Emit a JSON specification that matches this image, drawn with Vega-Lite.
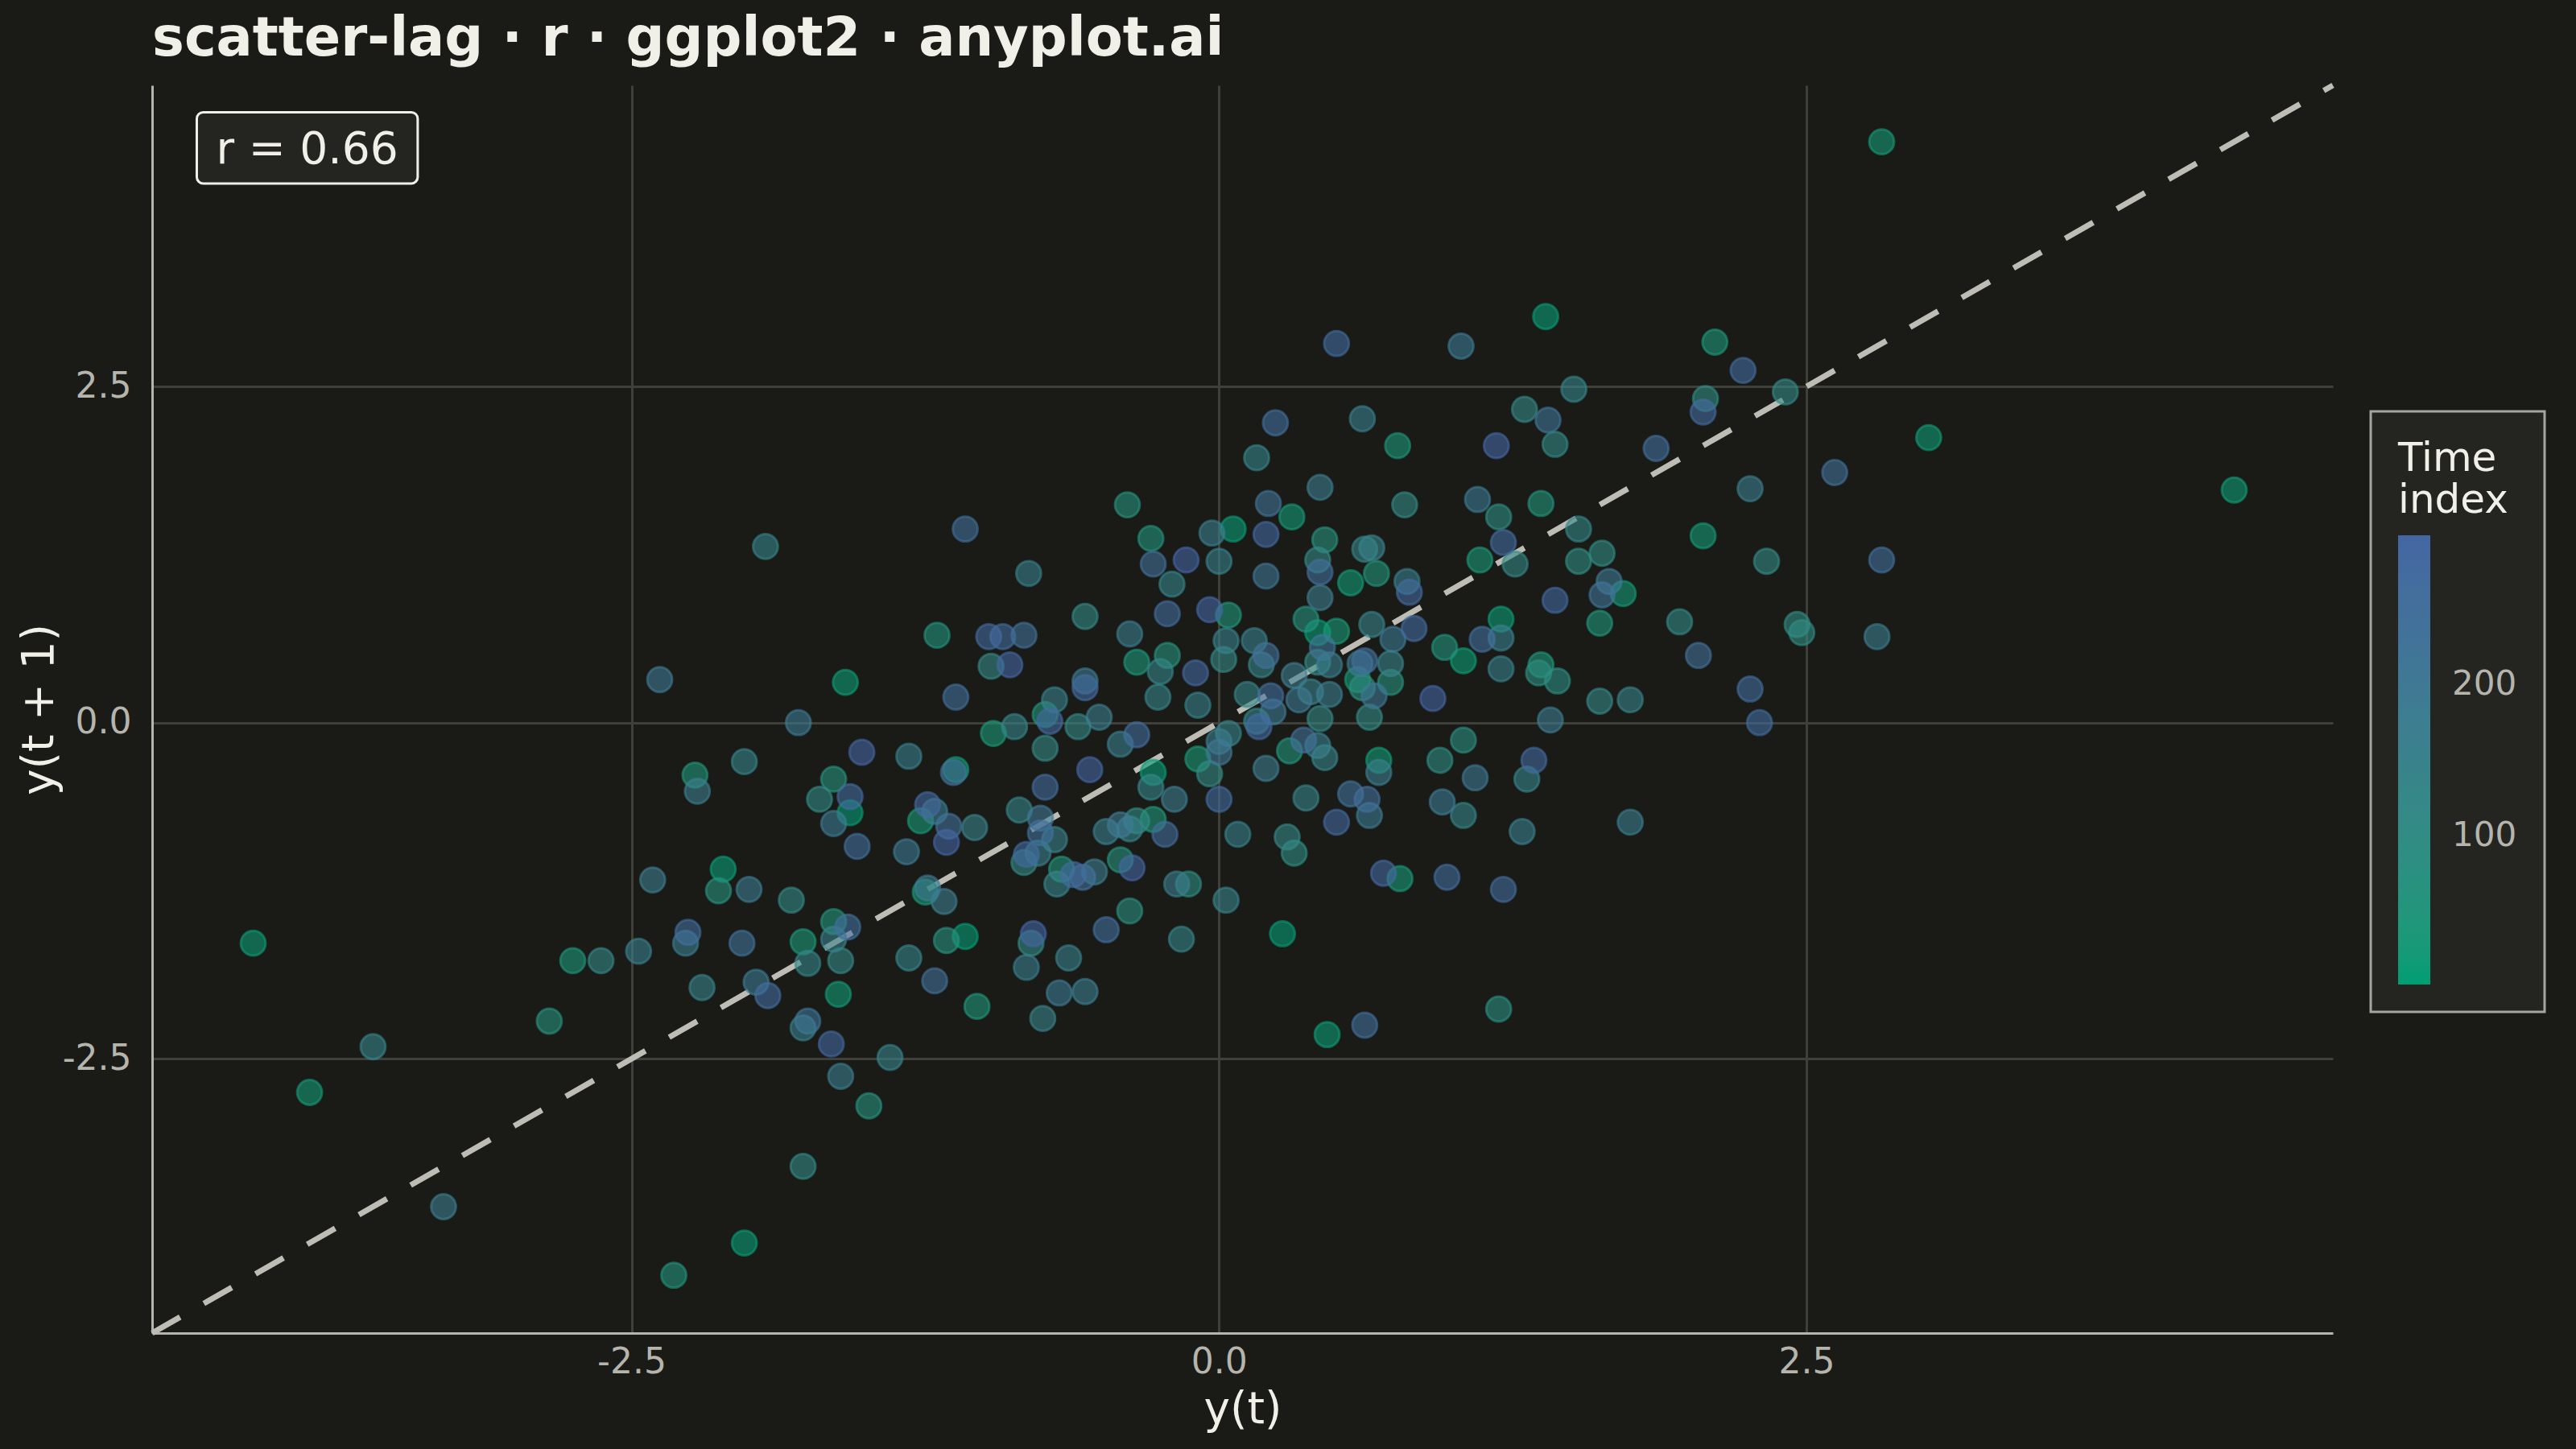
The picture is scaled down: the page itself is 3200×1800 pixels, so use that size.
{
  "$schema": "https://vega.github.io/schema/vega-lite/v6.json",
  "width": 2709,
  "height": 1550,
  "autosize": {"type": "none"},
  "padding": {"left": 189, "top": 106, "right": 302, "bottom": 144},
  "background": "#1A1A17",
  "title": {
    "text": "scatter-lag · r · ggplot2 · anyplot.ai",
    "anchor": "start",
    "frame": "group",
    "font": "DejaVu Sans",
    "fontSize": 67,
    "fontWeight": "bold",
    "color": "#F0EFE8",
    "offset": 20
  },
  "config": {
    "view": {"stroke": null},
    "legend": {"strokeWidth": 3},
    "axis": {
      "grid": true,
      "gridColor": "#40403B",
      "gridWidth": 3,
      "domain": true,
      "domainColor": "#B5B5AD",
      "domainWidth": 3,
      "ticks": false,
      "labelFont": "DejaVu Sans",
      "labelFontSize": 44,
      "labelColor": "#B5B5AD",
      "labelFlush": false,
      "labelOverlap": false,
      "titleFont": "DejaVu Sans",
      "titleFontSize": 55,
      "titleFontWeight": "normal",
      "titleColor": "#F0EFE8"
    }
  },
  "datasets": {
    "lag": [
      {"y_t": -4.11, "y_t1": -1.64, "t": 12},
      {"y_t": -2.75, "y_t1": -1.77, "t": 35},
      {"y_t": -2.63, "y_t1": -1.77, "t": 120},
      {"y_t": -2.47, "y_t1": -1.70, "t": 155},
      {"y_t": -2.85, "y_t1": -2.22, "t": 58},
      {"y_t": -3.60, "y_t1": -2.41, "t": 135},
      {"y_t": -3.87, "y_t1": -2.75, "t": 24},
      {"y_t": -3.30, "y_t1": -3.60, "t": 175},
      {"y_t": -2.32, "y_t1": -4.11, "t": 47},
      {"y_t": -2.02, "y_t1": -3.87, "t": 8},
      {"y_t": -1.77, "y_t1": -3.30, "t": 110},
      {"y_t": -1.49, "y_t1": -2.85, "t": 66},
      {"y_t": -1.61, "y_t1": -2.63, "t": 165},
      {"y_t": -1.40, "y_t1": -2.49, "t": 145},
      {"y_t": -1.12, "y_t1": 0.19, "t": 245},
      {"y_t": -1.79, "y_t1": 0.00, "t": 185},
      {"y_t": -0.96, "y_t1": -0.08, "t": 30},
      {"y_t": -0.87, "y_t1": -0.03, "t": 128},
      {"y_t": -0.74, "y_t1": 0.06, "t": 52},
      {"y_t": -0.72, "y_t1": 0.01, "t": 275},
      {"y_t": -0.70, "y_t1": 0.17, "t": 150},
      {"y_t": -0.74, "y_t1": -0.19, "t": 120},
      {"y_t": -0.74, "y_t1": -0.48, "t": 260},
      {"y_t": -1.52, "y_t1": -0.22, "t": 290},
      {"y_t": -1.32, "y_t1": -0.25, "t": 155},
      {"y_t": -1.12, "y_t1": -0.35, "t": 18},
      {"y_t": -1.13, "y_t1": -0.37, "t": 238},
      {"y_t": -2.02, "y_t1": -0.29, "t": 135},
      {"y_t": -2.23, "y_t1": -0.39, "t": 40},
      {"y_t": -2.22, "y_t1": -0.51, "t": 175},
      {"y_t": -1.64, "y_t1": -0.42, "t": 62},
      {"y_t": -1.70, "y_t1": -0.57, "t": 110},
      {"y_t": -1.57, "y_t1": -0.55, "t": 268},
      {"y_t": -1.57, "y_t1": -0.67, "t": 5},
      {"y_t": -1.64, "y_t1": -0.75, "t": 190},
      {"y_t": -1.54, "y_t1": -0.92, "t": 252},
      {"y_t": -1.24, "y_t1": -0.61, "t": 282},
      {"y_t": -1.27, "y_t1": -0.73, "t": 28},
      {"y_t": -1.21, "y_t1": -0.66, "t": 165},
      {"y_t": -1.15, "y_t1": -0.77, "t": 235},
      {"y_t": -1.16, "y_t1": -0.89, "t": 298},
      {"y_t": -1.04, "y_t1": -0.78, "t": 145},
      {"y_t": -1.33, "y_t1": -0.96, "t": 185},
      {"y_t": -0.85, "y_t1": -0.65, "t": 128},
      {"y_t": -0.76, "y_t1": -0.71, "t": 205},
      {"y_t": -0.76, "y_t1": -0.82, "t": 245},
      {"y_t": -0.70, "y_t1": -0.87, "t": 150},
      {"y_t": -0.82, "y_t1": -0.98, "t": 275},
      {"y_t": -0.83, "y_t1": -1.04, "t": 120},
      {"y_t": -0.77, "y_t1": -0.97, "t": 155},
      {"y_t": -0.67, "y_t1": -1.09, "t": 47},
      {"y_t": -0.69, "y_t1": -1.20, "t": 135},
      {"y_t": -2.41, "y_t1": -1.17, "t": 175},
      {"y_t": -2.11, "y_t1": -1.09, "t": 8},
      {"y_t": -2.13, "y_t1": -1.25, "t": 66},
      {"y_t": -2.00, "y_t1": -1.24, "t": 180},
      {"y_t": -1.82, "y_t1": -1.32, "t": 110},
      {"y_t": -2.26, "y_t1": -1.56, "t": 260},
      {"y_t": -2.27, "y_t1": -1.64, "t": 165},
      {"y_t": -2.03, "y_t1": -1.64, "t": 230},
      {"y_t": -2.20, "y_t1": -1.97, "t": 145},
      {"y_t": -1.97, "y_t1": -1.93, "t": 185},
      {"y_t": -1.92, "y_t1": -2.03, "t": 268},
      {"y_t": -1.77, "y_t1": -1.63, "t": 30},
      {"y_t": -1.75, "y_t1": -1.79, "t": 128},
      {"y_t": -1.64, "y_t1": -1.48, "t": 52},
      {"y_t": -1.58, "y_t1": -1.52, "t": 252},
      {"y_t": -1.64, "y_t1": -1.61, "t": 150},
      {"y_t": -1.61, "y_t1": -1.77, "t": 120},
      {"y_t": -1.62, "y_t1": -2.02, "t": 18},
      {"y_t": -1.75, "y_t1": -2.22, "t": 215},
      {"y_t": -1.77, "y_t1": -2.27, "t": 155},
      {"y_t": -1.65, "y_t1": -2.39, "t": 282},
      {"y_t": -1.32, "y_t1": -1.75, "t": 135},
      {"y_t": -1.21, "y_t1": -1.92, "t": 235},
      {"y_t": -1.03, "y_t1": -2.11, "t": 40},
      {"y_t": -1.16, "y_t1": -1.62, "t": 62},
      {"y_t": -1.08, "y_t1": -1.59, "t": 5},
      {"y_t": -1.25, "y_t1": -1.26, "t": 28},
      {"y_t": -1.24, "y_t1": -1.23, "t": 190},
      {"y_t": -1.17, "y_t1": -1.33, "t": 175},
      {"y_t": -0.79, "y_t1": -1.57, "t": 298},
      {"y_t": -0.80, "y_t1": -1.64, "t": 110},
      {"y_t": -0.82, "y_t1": -1.82, "t": 165},
      {"y_t": -0.75, "y_t1": -2.20, "t": 145},
      {"y_t": -0.68, "y_t1": -2.01, "t": 185},
      {"y_t": -1.93, "y_t1": 1.31, "t": 128},
      {"y_t": -1.08, "y_t1": 1.44, "t": 245},
      {"y_t": -0.81, "y_t1": 1.11, "t": 150},
      {"y_t": -1.20, "y_t1": 0.65, "t": 47},
      {"y_t": -0.98, "y_t1": 0.64, "t": 275},
      {"y_t": -0.92, "y_t1": 0.64, "t": 260},
      {"y_t": -0.83, "y_t1": 0.65, "t": 238},
      {"y_t": -0.97, "y_t1": 0.42, "t": 120},
      {"y_t": -0.89, "y_t1": 0.43, "t": 290},
      {"y_t": -2.38, "y_t1": 0.32, "t": 198},
      {"y_t": -1.59, "y_t1": 0.30, "t": 12},
      {"y_t": 0.50, "y_t1": 2.82, "t": 268},
      {"y_t": 1.03, "y_t1": 2.80, "t": 185},
      {"y_t": 0.24, "y_t1": 2.23, "t": 252},
      {"y_t": 0.61, "y_t1": 2.26, "t": 155},
      {"y_t": 0.76, "y_t1": 2.06, "t": 35},
      {"y_t": 0.16, "y_t1": 1.97, "t": 135},
      {"y_t": 0.43, "y_t1": 1.75, "t": 175},
      {"y_t": 0.79, "y_t1": 1.62, "t": 110},
      {"y_t": 1.10, "y_t1": 1.66, "t": 190},
      {"y_t": -0.39, "y_t1": 1.62, "t": 58},
      {"y_t": 0.21, "y_t1": 1.63, "t": 225},
      {"y_t": 0.31, "y_t1": 1.53, "t": 24},
      {"y_t": -0.29, "y_t1": 1.37, "t": 47},
      {"y_t": -0.03, "y_t1": 1.41, "t": 165},
      {"y_t": 0.06, "y_t1": 1.44, "t": 8},
      {"y_t": 0.20, "y_t1": 1.40, "t": 282},
      {"y_t": 0.45, "y_t1": 1.36, "t": 66},
      {"y_t": 0.65, "y_t1": 1.30, "t": 145},
      {"y_t": 0.62, "y_t1": 1.29, "t": 128},
      {"y_t": 1.11, "y_t1": 1.21, "t": 30},
      {"y_t": -0.28, "y_t1": 1.18, "t": 235},
      {"y_t": -0.14, "y_t1": 1.21, "t": 298},
      {"y_t": 0.00, "y_t1": 1.20, "t": 150},
      {"y_t": 0.42, "y_t1": 1.21, "t": 120},
      {"y_t": 0.43, "y_t1": 1.12, "t": 245},
      {"y_t": 0.67, "y_t1": 1.11, "t": 52},
      {"y_t": 0.56, "y_t1": 1.04, "t": 18},
      {"y_t": 0.80, "y_t1": 1.05, "t": 155},
      {"y_t": 0.81, "y_t1": 0.97, "t": 275},
      {"y_t": 0.20, "y_t1": 1.09, "t": 210},
      {"y_t": -0.20, "y_t1": 1.03, "t": 135},
      {"y_t": 0.43, "y_t1": 0.93, "t": 175},
      {"y_t": -0.57, "y_t1": 0.79, "t": 110},
      {"y_t": -0.38, "y_t1": 0.66, "t": 165},
      {"y_t": -0.22, "y_t1": 0.81, "t": 260},
      {"y_t": -0.04, "y_t1": 0.84, "t": 290},
      {"y_t": 0.04, "y_t1": 0.80, "t": 40},
      {"y_t": 0.37, "y_t1": 0.77, "t": 62},
      {"y_t": 0.42, "y_t1": 0.67, "t": 5},
      {"y_t": 0.50, "y_t1": 0.68, "t": 28},
      {"y_t": 0.65, "y_t1": 0.73, "t": 145},
      {"y_t": 0.83, "y_t1": 0.70, "t": 268},
      {"y_t": 0.74, "y_t1": 0.62, "t": 185},
      {"y_t": 0.96, "y_t1": 0.56, "t": 47},
      {"y_t": 1.04, "y_t1": 0.46, "t": 12},
      {"y_t": 1.12, "y_t1": 0.62, "t": 252},
      {"y_t": -0.35, "y_t1": 0.45, "t": 35},
      {"y_t": -0.22, "y_t1": 0.50, "t": 58},
      {"y_t": -0.25, "y_t1": 0.38, "t": 128},
      {"y_t": -0.10, "y_t1": 0.37, "t": 282},
      {"y_t": 0.03, "y_t1": 0.61, "t": 150},
      {"y_t": 0.02, "y_t1": 0.47, "t": 120},
      {"y_t": 0.15, "y_t1": 0.61, "t": 155},
      {"y_t": 0.20, "y_t1": 0.50, "t": 235},
      {"y_t": 0.18, "y_t1": 0.43, "t": 135},
      {"y_t": 0.32, "y_t1": 0.35, "t": 175},
      {"y_t": 0.44, "y_t1": 0.56, "t": 215},
      {"y_t": 0.42, "y_t1": 0.45, "t": 110},
      {"y_t": 0.47, "y_t1": 0.43, "t": 165},
      {"y_t": 0.60, "y_t1": 0.44, "t": 190},
      {"y_t": 0.62, "y_t1": 0.46, "t": 245},
      {"y_t": 0.73, "y_t1": 0.44, "t": 145},
      {"y_t": 0.59, "y_t1": 0.32, "t": 24},
      {"y_t": 0.73, "y_t1": 0.30, "t": 66},
      {"y_t": -0.57, "y_t1": 0.31, "t": 185},
      {"y_t": -0.57, "y_t1": 0.26, "t": 275},
      {"y_t": -0.26, "y_t1": 0.19, "t": 128},
      {"y_t": -0.09, "y_t1": 0.13, "t": 150},
      {"y_t": -0.51, "y_t1": 0.04, "t": 170},
      {"y_t": -0.60, "y_t1": -0.03, "t": 120},
      {"y_t": -0.35, "y_t1": -0.09, "t": 260},
      {"y_t": -0.42, "y_t1": -0.16, "t": 155},
      {"y_t": -0.55, "y_t1": -0.35, "t": 290},
      {"y_t": -0.28, "y_t1": -0.37, "t": 8},
      {"y_t": -0.29, "y_t1": -0.48, "t": 135},
      {"y_t": -0.19, "y_t1": -0.57, "t": 175},
      {"y_t": -0.09, "y_t1": -0.27, "t": 30},
      {"y_t": -0.04, "y_t1": -0.38, "t": 110},
      {"y_t": 0.00, "y_t1": -0.22, "t": 205},
      {"y_t": 0.00, "y_t1": -0.14, "t": 165},
      {"y_t": 0.04, "y_t1": -0.08, "t": 145},
      {"y_t": 0.00, "y_t1": -0.57, "t": 268},
      {"y_t": 0.12, "y_t1": 0.21, "t": 130},
      {"y_t": 0.22, "y_t1": 0.20, "t": 252},
      {"y_t": 0.23, "y_t1": 0.08, "t": 185},
      {"y_t": 0.17, "y_t1": -0.03, "t": 282},
      {"y_t": 0.16, "y_t1": 0.01, "t": 128},
      {"y_t": 0.34, "y_t1": 0.17, "t": 195},
      {"y_t": 0.39, "y_t1": 0.23, "t": 150},
      {"y_t": 0.47, "y_t1": 0.21, "t": 170},
      {"y_t": 0.43, "y_t1": 0.03, "t": 120},
      {"y_t": 0.30, "y_t1": -0.21, "t": 52},
      {"y_t": 0.36, "y_t1": -0.13, "t": 235},
      {"y_t": 0.42, "y_t1": -0.17, "t": 155},
      {"y_t": 0.45, "y_t1": -0.26, "t": 135},
      {"y_t": 0.20, "y_t1": -0.34, "t": 175},
      {"y_t": 0.61, "y_t1": 0.26, "t": 85},
      {"y_t": 0.66, "y_t1": 0.20, "t": 210},
      {"y_t": 0.64, "y_t1": 0.04, "t": 110},
      {"y_t": 0.91, "y_t1": 0.18, "t": 298},
      {"y_t": 0.68, "y_t1": -0.28, "t": 18},
      {"y_t": 0.68, "y_t1": -0.37, "t": 165},
      {"y_t": 1.04, "y_t1": -0.13, "t": 75},
      {"y_t": 0.94, "y_t1": -0.28, "t": 90},
      {"y_t": 1.09, "y_t1": -0.41, "t": 200},
      {"y_t": 0.37, "y_t1": -0.56, "t": 145},
      {"y_t": 0.56, "y_t1": -0.53, "t": 230},
      {"y_t": 0.63, "y_t1": -0.57, "t": 245},
      {"y_t": 0.64, "y_t1": -0.69, "t": 185},
      {"y_t": 0.50, "y_t1": -0.74, "t": 275},
      {"y_t": 0.95, "y_t1": -0.59, "t": 190},
      {"y_t": 1.04, "y_t1": -0.69, "t": 128},
      {"y_t": 0.08, "y_t1": -0.83, "t": 150},
      {"y_t": 0.29, "y_t1": -0.85, "t": 120},
      {"y_t": 0.32, "y_t1": -0.97, "t": 95},
      {"y_t": -0.48, "y_t1": -0.81, "t": 155},
      {"y_t": -0.42, "y_t1": -0.76, "t": 200},
      {"y_t": -0.38, "y_t1": -0.79, "t": 135},
      {"y_t": -0.35, "y_t1": -0.73, "t": 100},
      {"y_t": -0.28, "y_t1": -0.72, "t": 40},
      {"y_t": -0.23, "y_t1": -0.83, "t": 260},
      {"y_t": -0.42, "y_t1": -1.02, "t": 62},
      {"y_t": -0.37, "y_t1": -1.08, "t": 290},
      {"y_t": -0.62, "y_t1": -1.13, "t": 268},
      {"y_t": -0.58, "y_t1": -1.15, "t": 240},
      {"y_t": -0.53, "y_t1": -1.11, "t": 175},
      {"y_t": -0.18, "y_t1": -1.20, "t": 165},
      {"y_t": -0.13, "y_t1": -1.20, "t": 88},
      {"y_t": 0.03, "y_t1": -1.32, "t": 145},
      {"y_t": -0.38, "y_t1": -1.40, "t": 80},
      {"y_t": -0.48, "y_t1": -1.54, "t": 252},
      {"y_t": -0.16, "y_t1": -1.61, "t": 128},
      {"y_t": -0.64, "y_t1": -1.75, "t": 150},
      {"y_t": -0.57, "y_t1": -2.00, "t": 170},
      {"y_t": 0.70, "y_t1": -1.12, "t": 282},
      {"y_t": 0.77, "y_t1": -1.16, "t": 28},
      {"y_t": 0.97, "y_t1": -1.15, "t": 258},
      {"y_t": 0.27, "y_t1": -1.57, "t": 5},
      {"y_t": 0.46, "y_t1": -2.32, "t": 12},
      {"y_t": 0.62, "y_t1": -2.25, "t": 245},
      {"y_t": 2.82, "y_t1": 4.32, "t": 24},
      {"y_t": 1.39, "y_t1": 3.02, "t": 8},
      {"y_t": 2.11, "y_t1": 2.83, "t": 35},
      {"y_t": 2.23, "y_t1": 2.62, "t": 265},
      {"y_t": 2.41, "y_t1": 2.46, "t": 110},
      {"y_t": 2.07, "y_t1": 2.41, "t": 95},
      {"y_t": 2.06, "y_t1": 2.31, "t": 280},
      {"y_t": 1.51, "y_t1": 2.48, "t": 130},
      {"y_t": 1.30, "y_t1": 2.33, "t": 120},
      {"y_t": 1.40, "y_t1": 2.25, "t": 215},
      {"y_t": 1.43, "y_t1": 2.07, "t": 105},
      {"y_t": 1.18, "y_t1": 2.06, "t": 290},
      {"y_t": 1.86, "y_t1": 2.04, "t": 250},
      {"y_t": 2.62, "y_t1": 1.86, "t": 240},
      {"y_t": 2.26, "y_t1": 1.74, "t": 170},
      {"y_t": 3.02, "y_t1": 2.12, "t": 15},
      {"y_t": 1.37, "y_t1": 1.63, "t": 50},
      {"y_t": 1.19, "y_t1": 1.53, "t": 90},
      {"y_t": 1.21, "y_t1": 1.34, "t": 270},
      {"y_t": 1.26, "y_t1": 1.18, "t": 115},
      {"y_t": 1.53, "y_t1": 1.44, "t": 125},
      {"y_t": 1.63, "y_t1": 1.26, "t": 100},
      {"y_t": 1.53, "y_t1": 1.20, "t": 95},
      {"y_t": 1.66, "y_t1": 1.05, "t": 200},
      {"y_t": 1.63, "y_t1": 0.95, "t": 225},
      {"y_t": 1.72, "y_t1": 0.96, "t": 20},
      {"y_t": 1.43, "y_t1": 0.91, "t": 285},
      {"y_t": 1.62, "y_t1": 0.74, "t": 45},
      {"y_t": 1.20, "y_t1": 0.77, "t": 10},
      {"y_t": 1.20, "y_t1": 0.63, "t": 160},
      {"y_t": 1.20, "y_t1": 0.40, "t": 150},
      {"y_t": 1.37, "y_t1": 0.43, "t": 38},
      {"y_t": 1.36, "y_t1": 0.37, "t": 85},
      {"y_t": 1.44, "y_t1": 0.31, "t": 90},
      {"y_t": 1.62, "y_t1": 0.16, "t": 120},
      {"y_t": 1.75, "y_t1": 0.17, "t": 145},
      {"y_t": 1.41, "y_t1": 0.02, "t": 180},
      {"y_t": 1.34, "y_t1": -0.28, "t": 275},
      {"y_t": 1.31, "y_t1": -0.42, "t": 135},
      {"y_t": 1.29, "y_t1": -0.81, "t": 155},
      {"y_t": 1.75, "y_t1": -0.74, "t": 170},
      {"y_t": 1.21, "y_t1": -1.24, "t": 262},
      {"y_t": 1.19, "y_t1": -2.13, "t": 80},
      {"y_t": 2.06, "y_t1": 1.39, "t": 20},
      {"y_t": 2.33, "y_t1": 1.20, "t": 110},
      {"y_t": 2.82, "y_t1": 1.21, "t": 248},
      {"y_t": 1.96, "y_t1": 0.75, "t": 105},
      {"y_t": 2.04, "y_t1": 0.50, "t": 240},
      {"y_t": 2.46, "y_t1": 0.73, "t": 95},
      {"y_t": 2.48, "y_t1": 0.67, "t": 100},
      {"y_t": 2.80, "y_t1": 0.64, "t": 165},
      {"y_t": 2.26, "y_t1": 0.25, "t": 255},
      {"y_t": 2.30, "y_t1": 0.00, "t": 270},
      {"y_t": 4.32, "y_t1": 1.73, "t": 15}
    ]
  },
  "layer": [
    {
      "data": {"values": [{}]},
      "mark": {"type": "rule", "strokeDash": [40, 34], "strokeWidth": 7, "color": "#BDBDB5", "strokeCap": "butt"},
      "encoding": {
        "x": {"datum": -4.54, "type": "quantitative", "scale": {"domain": [-4.54, 4.74], "nice": false, "zero": false}},
        "y": {"datum": -4.54, "type": "quantitative", "scale": {"domain": [-4.54, 4.74], "nice": false, "zero": false}},
        "x2": {"datum": 4.74},
        "y2": {"datum": 4.74}
      }
    },
    {
      "data": {"name": "lag"},
      "mark": {"type": "point", "shape": "circle", "filled": true, "size": 950, "opacity": 1, "fillOpacity": 0.6, "strokeOpacity": 0.6, "strokeWidth": 3},
      "encoding": {
        "x": {
          "field": "y_t", "type": "quantitative", "title": "y(t)",
          "scale": {"domain": [-4.54, 4.74], "nice": false, "zero": false},
          "axis": {"values": [-2.5, 0, 2.5], "labelExpr": "datum.value < 0 ? '-' + format(-datum.value, '.1f') : format(datum.value, '.1f')", "labelPadding": 14, "titlePadding": 10}
        },
        "y": {
          "field": "y_t1", "type": "quantitative", "title": "y(t + 1)",
          "scale": {"domain": [-4.54, 4.74], "nice": false, "zero": false},
          "axis": {"values": [-2.5, 0, 2.5], "labelExpr": "datum.value < 0 ? '-' + format(-datum.value, '.1f') : format(datum.value, '.1f')", "labelPadding": 26, "titlePadding": 0}
        },
        "fill": {
          "field": "t", "type": "quantitative",
          "scale": {"domain": [1, 299], "range": ["#009E73", "#4466A3"], "interpolate": "lab"},
          "legend": {
            "type": "gradient",
            "title": ["Time", "index"],
            "orient": "none",
            "legendX": 2756,
            "legendY": 405,
            "direction": "vertical",
            "values": [100, 200],
            "gradientLength": 558,
            "gradientThickness": 40,
            "gradientStrokeWidth": 0,
            "titleFont": "DejaVu Sans",
            "titleFontSize": 50,
            "titleFontWeight": "normal",
            "titleColor": "#F0EFE8",
            "titleLineHeight": 52,
            "titlePadding": 18,
            "labelFont": "DejaVu Sans",
            "labelFontSize": 42,
            "labelColor": "#B5B5AD",
            "labelOffset": 27,
            "padding": 34,
            "fillColor": "#242421",
            "strokeColor": "#A5A59F"
          }
        },
        "stroke": {
          "field": "t", "type": "quantitative",
          "scale": {"domain": [0.99, 299.01], "range": ["#009E73", "#4466A3"], "interpolate": "lab"},
          "legend": null
        },
        "order": {"field": "t", "type": "quantitative"}
      }
    },
    {
      "data": {"values": [{}]},
      "mark": {"type": "rect", "fill": "#242421", "stroke": "#F0EFE8", "strokeWidth": 3, "cornerRadius": 8},
      "encoding": {
        "x": {"datum": -4.35, "type": "quantitative"},
        "x2": {"datum": -3.41},
        "y": {"datum": 4.54, "type": "quantitative"},
        "y2": {"datum": 4.01}
      }
    },
    {
      "data": {"values": [{}]},
      "mark": {"type": "text", "text": "r = 0.66", "font": "DejaVu Sans", "fontSize": 55, "color": "#F0EFE8", "align": "center", "baseline": "middle"},
      "encoding": {
        "x": {"datum": -3.88, "type": "quantitative"},
        "y": {"datum": 4.26, "type": "quantitative"}
      }
    }
  ]
}
